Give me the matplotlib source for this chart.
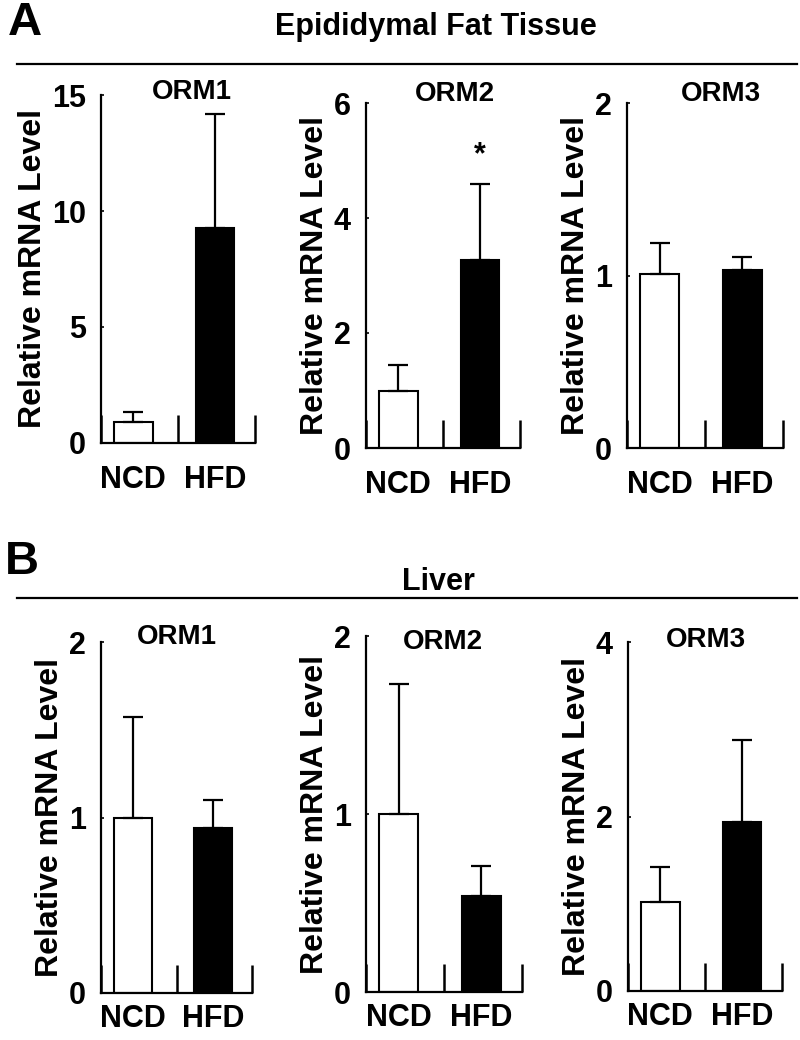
import numpy as np
import matplotlib
matplotlib.use('Agg')
import matplotlib.pyplot as plt
from matplotlib.lines import Line2D

plt.rcParams['font.family'] = ['Liberation Sans', 'DejaVu Sans']
plt.rcParams['font.weight'] = 'bold'

groups = ['NCD', 'HFD']
genes = ['ORM1', 'ORM2', 'ORM3']

# Epididymal fat tissue
fat_mean = [[0.9, 9.25], [1.0, 3.27], [1.01, 1.03]]
fat_err = [[0.44, 4.95], [0.45, 1.33], [0.18, 0.08]]
fat_ticks = [[0, 5, 10, 15], [0, 2, 4, 6], [0, 1, 2]]

# Liver
liver_mean = [[1.0, 0.94], [1.0, 0.54], [1.02, 1.94]]
liver_err = [[0.57, 0.16], [0.73, 0.17], [0.40, 0.94]]
liver_ticks = [[0, 1, 2], [0, 1, 2], [0, 2, 4]]

W, H = 800, 1040
fig = plt.figure(figsize=(W / 100, H / 100), dpi=100)


def rect(x0, x1, ytop, ybot):
    return [x0 / W, 1 - ybot / H, (x1 - x0) / W, (ybot - ytop) / H]


def bar_panel(r, gene, mean, err, ticks, title_xy, xpad, star=None):
    ax = fig.add_axes(r)
    pos = [0.42, 1.48]
    ax.bar(pos, mean, width=0.5, color=['white', 'black'], edgecolor='black',
           linewidth=1.5, zorder=2)
    ax.errorbar(pos, mean, yerr=[[0, 0], err], fmt='none', ecolor='black',
                elinewidth=1.6, capsize=7, capthick=1.6, zorder=3)
    ax.set_xlim(0, 2)
    ax.set_ylim(0, ticks[-1])
    for s in ['top', 'right']:
        ax.spines[s].set_visible(False)
    ax.spines['left'].set_linewidth(1.6)
    ax.spines['bottom'].set_linewidth(1.6)
    ax.set_xticks([0, 1, 2])
    ax.set_xticklabels(['', '', ''])
    ax.tick_params(axis='x', which='major', direction='in', length=20, width=1.8)
    ax.set_xticks(pos, groups, minor=True)
    ax.tick_params(axis='x', which='minor', length=0, pad=xpad, labelsize=22)
    ax.set_yticks(ticks)
    ax.tick_params(axis='y', direction='in', length=2, width=1.2, pad=11, labelsize=22)
    ax.set_ylabel('Relative mRNA Level', fontsize=23, fontweight='bold', labelpad=3)
    ax.text(title_xy[0], title_xy[1], gene, transform=ax.transAxes, ha='center',
            va='center', fontsize=20, fontweight='bold')
    if star is not None:
        ax.text(pos[1], star, '*', ha='center', va='center', fontsize=22,
                fontweight='bold')
    return ax


# Panel A
fig.text(8 / W, 1 - 23 / H, 'A', fontsize=34, fontweight='bold', va='center')
fig.text(436 / W, 1 - 27 / H, 'Epididymal Fat Tissue', fontsize=22,
         fontweight='bold', ha='center', va='center')
fig.add_artist(Line2D([17 / W, 797 / W], [1 - 64 / H] * 2, color='black', lw=1.6))

fat_rects = [rect(101, 255, 95, 443), rect(366, 520, 103, 448), rect(627, 783, 103, 448)]
fat_title_xy = [(0.59, 1.01), (0.58, 1.026), (0.6, 1.026)]
for i in range(3):
    bar_panel(fat_rects[i], genes[i], fat_mean[i], fat_err[i], fat_ticks[i],
              fat_title_xy[i], 16, star=5.1 if i == 1 else None)

# Panel B
fig.text(5 / W, 1 - 562 / H, 'B', fontsize=34, fontweight='bold', va='center')
fig.text(438 / W, 1 - 582 / H, 'Liver', fontsize=22,
         fontweight='bold', ha='center', va='center')
fig.add_artist(Line2D([17 / W, 797 / W], [1 - 598 / H] * 2, color='black', lw=1.6))

liver_rects = [rect(101, 252, 642, 993), rect(366, 522, 636, 992), rect(628, 782, 642, 991)]
liver_title_xy = [(0.5, 1.014), (0.49, 0.983), (0.506, 1.006)]
for i in range(3):
    bar_panel(liver_rects[i], genes[i], liver_mean[i], liver_err[i], liver_ticks[i],
              liver_title_xy[i], 8)

fig.savefig('out.png', dpi=100, facecolor='white')
